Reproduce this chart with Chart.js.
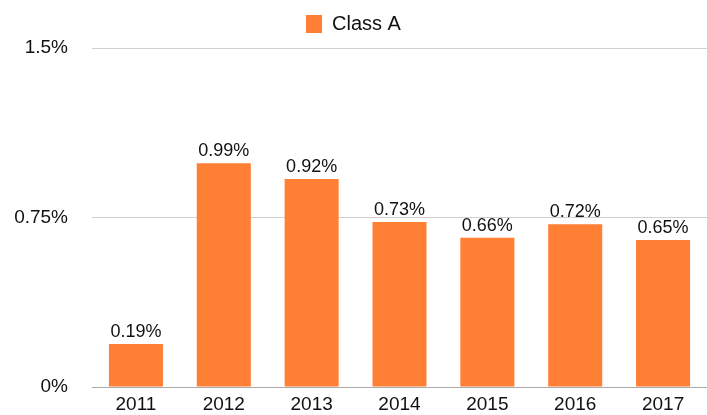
<!DOCTYPE html>
<html><head><meta charset="utf-8">
<script src="https://cdn.jsdelivr.net/npm/chart.js@4/dist/chart.umd.min.js"></script>
<style>html,body{margin:0;padding:0;background:#fff;overflow:hidden}#wrap{width:707px;height:415px;position:relative}</style>
</head><body><div id="wrap"><canvas id="c"></canvas></div>
<script>
const categories = ['2011','2012','2013','2014','2015','2016','2017'];
const classA = [0.19, 0.99, 0.92, 0.73, 0.66, 0.72, 0.65];
const yTickValues = [0, 0.75, 1.5];
const yTickLabels = ['0%', '0.75%', '1.5%'];
const seriesName = 'Class A';

const FONT = "'Liberation Sans', Arial, Helvetica, sans-serif";
const ORANGE = '#FF7F35';

const valueLabels = {
  id: 'valueLabels',
  afterDatasetsDraw(chart) {
    const ctx = chart.ctx;
    const meta = chart.getDatasetMeta(0);
    ctx.save();
    ctx.font = '18px ' + FONT;
    ctx.fillStyle = '#111';
    ctx.textAlign = 'center';
    ctx.textBaseline = 'alphabetic';
    meta.data.forEach((bar, i) => {
      ctx.fillText(classA[i].toFixed(2) + '%', bar.x, bar.y - 7);
    });
    ctx.restore();
  }
};

const fixLegendHeight = {
  id: 'fixLegendHeight',
  afterInit(chart) {
    const l = chart.legend;
    if (l && !l._patched) {
      const f = l.fit.bind(l);
      l.fit = function () { f(); this.height = 48; };
      l._patched = true;
    }
  }
};

new Chart(document.getElementById('c'), {
  type: 'bar',
  data: {
    labels: categories,
    datasets: [{
      label: seriesName,
      data: classA,
      backgroundColor: ORANGE,
      borderWidth: 0,
      categoryPercentage: 1,
      barPercentage: 0.615
    }]
  },
  options: {
    responsive: true,
    maintainAspectRatio: false,
    animation: false,
    layout: { padding: 0 },
    plugins: {
      tooltip: { enabled: false },
      legend: {
        position: 'top',
        labels: {
          boxWidth: 16, boxHeight: 18,
          color: '#111',
          font: { family: FONT, size: 20 },
          padding: 14
        }
      }
    },
    scales: {
      x: {
        grid: { display: false, drawTicks: false },
        border: { display: true, color: '#aaa', width: 1 },
        ticks: { color: '#111', font: { family: FONT, size: 19 }, padding: 6, maxRotation: 0 },
        afterFit(s) { s.height = 28; }
      },
      y: {
        min: 0, max: 1.5,
        afterBuildTicks(s) { s.ticks = yTickValues.map(v => ({ value: v })); },
        grid: { color: '#cfcfcf', lineWidth: 1, drawTicks: false },
        border: { display: false },
        ticks: {
          color: '#111', font: { family: FONT, size: 19 }, padding: 24,
          callback(v) { const i = yTickValues.indexOf(v); return i >= 0 ? yTickLabels[i] : ''; }
        },
        afterFit(s) { s.width = 92; s.paddingTop = 0; s.paddingBottom = 0; }
      }
    }
  },
  plugins: [fixLegendHeight, valueLabels]
});
</script></body></html>
